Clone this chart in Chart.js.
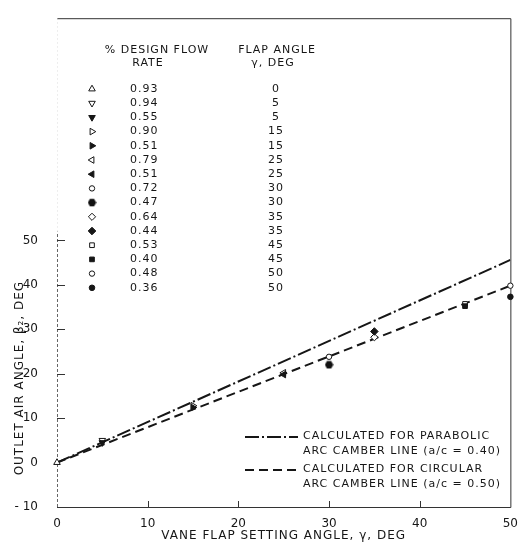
<!DOCTYPE html>
<html><head><meta charset="utf-8">
<script src="https://cdn.jsdelivr.net/npm/chart.js@4"></script>
<style>html,body{margin:0;padding:0;background:#fff}canvas{display:block}</style>
</head><body>
<canvas id="c" width="520" height="546"></canvas>
<script>
// ---- data ----
const flowRates = ['0.93','0.94','0.55','0.90','0.51','0.79','0.51','0.72','0.47','0.64','0.44','0.53','0.40','0.48','0.36'];
const flapAngles = [0,5,5,15,15,25,25,30,30,35,35,45,45,50,50];
const outletAngles = [0,5.0,4.5,12.8,12.4,20.2,19.8,23.8,22.0,28.2,29.5,35.7,35.2,39.8,37.3];
const lineAngles = [0,50];
const parabolicOutlet = [0,45.6];
const circularOutlet = [0,39.8];
const xTicks = [0,10,20,30,40,50];
const yTicks = [-10,0,10,20,30,40,50];
const tableHeaders = [['% DESIGN FLOW','RATE'],['FLAP ANGLE','γ, DEG']];
const legendLabels = [['CALCULATED FOR PARABOLIC','ARC CAMBER LINE (a/c = 0.40)'],['CALCULATED FOR CIRCULAR','ARC CAMBER LINE (a/c = 0.50)']];
const xTitle = 'VANE FLAP SETTING ANGLE, γ, DEG';
const yTitle = 'OUTLET AIR ANGLE, β₂, DEG';

// ---- styles ----
function hexagon(){
  const c=document.createElement('canvas');c.width=9;c.height=9;
  const g=c.getContext('2d');g.fillStyle='#111';g.beginPath();
  for(let k=0;k<6;k++){const a=Math.PI/3*k;const px=4.5+4.2*Math.cos(a),py=4.5+4.2*Math.sin(a);k?g.lineTo(px,py):g.moveTo(px,py);}
  g.closePath();g.fill();return c;
}
const hex=hexagon();
const markerStyles=[
 {s:'triangle',r:0,f:false,z:3.8},{s:'triangle',r:180,f:false,z:3.8},{s:'triangle',r:180,f:true,z:3.8},
 {s:'triangle',r:90,f:false,z:3.8},{s:'triangle',r:90,f:true,z:3.8},
 {s:'triangle',r:-90,f:false,z:3.8},{s:'triangle',r:-90,f:true,z:3.8},
 {s:'circle',r:0,f:false,z:2.7},{s:hex,r:0,f:true,z:3.5},
 {s:'rectRot',r:0,f:false,z:3.6},{s:'rectRot',r:0,f:true,z:3.8},
 {s:'rect',r:0,f:false,z:3.3},{s:'rect',r:0,f:true,z:3.3},
 {s:'circle',r:0,f:false,z:2.7},{s:'circle',r:0,f:true,z:2.8}
];
const INK='#161616';
const FONT='"DejaVu Sans", sans-serif';

const datasets=[
 {type:'line',label:'parabolic',data:lineAngles.map((x,i)=>({x,y:parabolicOutlet[i]})),borderColor:INK,borderWidth:2,borderDash:[14,3,2,3],pointRadius:0,fill:false,order:3},
 {type:'line',label:'circular',data:lineAngles.map((x,i)=>({x,y:circularOutlet[i]})),borderColor:INK,borderWidth:2,borderDash:[9,5],pointRadius:0,fill:false,order:3}
];
flowRates.forEach((r,i)=>{
  const m=markerStyles[i];
  datasets.push({type:'scatter',label:r,data:[{x:flapAngles[i],y:outletAngles[i]}],
    pointStyle:m.s,rotation:m.r,pointRadius:m.z,borderWidth:1,borderColor:INK,
    backgroundColor:m.f?INK:'#fff',clip:false,order:m.f?1:2});
});

const decor={
  id:'decor',
  beforeDatasetsDraw(chart){
    const {ctx,chartArea:a,scales:{x,y}}=chart;
    ctx.save();
    ctx.lineWidth=1;ctx.strokeStyle='#333';
    ctx.beginPath();
    ctx.moveTo(a.left,a.top+0.5);ctx.lineTo(a.right+0.5,a.top+0.5);
    ctx.lineTo(a.right+0.5,a.bottom+0.5);ctx.lineTo(a.left,a.bottom+0.5);
    ctx.stroke();
    ctx.strokeStyle='#666';ctx.setLineDash([3,2]);
    ctx.beginPath();ctx.moveTo(a.left+0.5,a.bottom);ctx.lineTo(a.left+0.5,y.getPixelForValue(52));ctx.stroke();
    ctx.strokeStyle='#ddd';ctx.setLineDash([1,3]);
    ctx.beginPath();ctx.moveTo(a.left+0.5,y.getPixelForValue(52));ctx.lineTo(a.left+0.5,a.top);ctx.stroke();
    ctx.setLineDash([]);ctx.strokeStyle='#333';
    ctx.beginPath();
    yTicks.forEach(v=>{if(v<=0)return;const p=Math.round(y.getPixelForValue(v))+0.5;ctx.moveTo(a.left,p);ctx.lineTo(a.left+8,p);});
    xTicks.forEach(v=>{if(v<=0||v>=50)return;const p=Math.round(x.getPixelForValue(v))+0.5;ctx.moveTo(p,a.bottom);ctx.lineTo(p,a.bottom-6);});
    ctx.stroke();
    ctx.restore();
  },
  afterDraw(chart){
    const {ctx,chartArea:a,scales:{x,y}}=chart;
    ctx.save();
    ctx.fillStyle=INK;
    try{ctx.letterSpacing='1px';}catch(e){}
    // axis titles
    ctx.font='12px '+FONT;ctx.textAlign='center';ctx.textBaseline='middle';
    ctx.fillText(xTitle,(a.left+a.right)/2,536);
    ctx.save();ctx.translate(20,y.getPixelForValue(19));ctx.rotate(-Math.PI/2);
    ctx.fillText(yTitle,0,0);ctx.restore();
    // table headers
    ctx.font='11px '+FONT;
    ctx.fillText(tableHeaders[0][0],157,50);ctx.fillText(tableHeaders[0][1],148,63);
    ctx.fillText(tableHeaders[1][0],277,50);ctx.fillText(tableHeaders[1][1],273,63);
    // table rows
    const y0=89,dy=14.2;
    flowRates.forEach((r,i)=>{
      const yy=y0+i*dy;const m=markerStyles[i];
      ctx.textAlign='left';ctx.fillStyle=INK;ctx.fillText(r,130,yy);
      ctx.textAlign='center';ctx.fillText(String(flapAngles[i]),276,yy);
      ctx.save();ctx.letterSpacing='0px';
      ctx.fillStyle=m.f?INK:'#fff';ctx.strokeStyle=INK;ctx.lineWidth=1;
      Chart.helpers.drawPoint(ctx,{pointStyle:m.s,radius:m.z,rotation:m.r,borderWidth:1},92,yy);
      ctx.restore();
    });
    // line legend
    const ds=chart.data.datasets;
    const ly=[437,470];
    ly.forEach((yy,k)=>{
      ctx.save();ctx.strokeStyle=INK;ctx.lineWidth=2;ctx.setLineDash(ds[k].borderDash);
      ctx.beginPath();ctx.moveTo(245,yy);ctx.lineTo(298,yy);ctx.stroke();ctx.restore();
      ctx.textAlign='left';ctx.fillStyle=INK;
      ctx.fillText(legendLabels[k][0],303,yy-1);
      ctx.fillText(legendLabels[k][1],303,yy+14);
    });
    ctx.restore();
  }
};

new Chart(document.getElementById('c'),{
  data:{datasets},
  options:{
    responsive:false,animation:false,devicePixelRatio:1,
    layout:{padding:{top:10,right:8,left:0,bottom:0}},
    plugins:{legend:{display:false},tooltip:{enabled:false}},
    scales:{
      x:{type:'linear',min:0,max:50,
        afterBuildTicks:s=>{s.ticks=xTicks.map(v=>({value:v}));},
        afterFit:s=>{s.height=39;},
        grid:{display:false},border:{display:false},
        ticks:{padding:2,color:INK,font:{family:FONT,size:12},maxRotation:0}},
      y:{type:'linear',min:-10,max:100,
        afterBuildTicks:s=>{s.ticks=yTicks.map(v=>({value:v}));},
        afterFit:s=>{s.width=57;},
        grid:{display:false},border:{display:false},
        ticks:{padding:11,color:INK,font:{family:FONT,size:12},
          callback:v=>v===-10?'- 10':String(v)}}
    }
  },
  plugins:[decor]
});
</script>
</body></html>
